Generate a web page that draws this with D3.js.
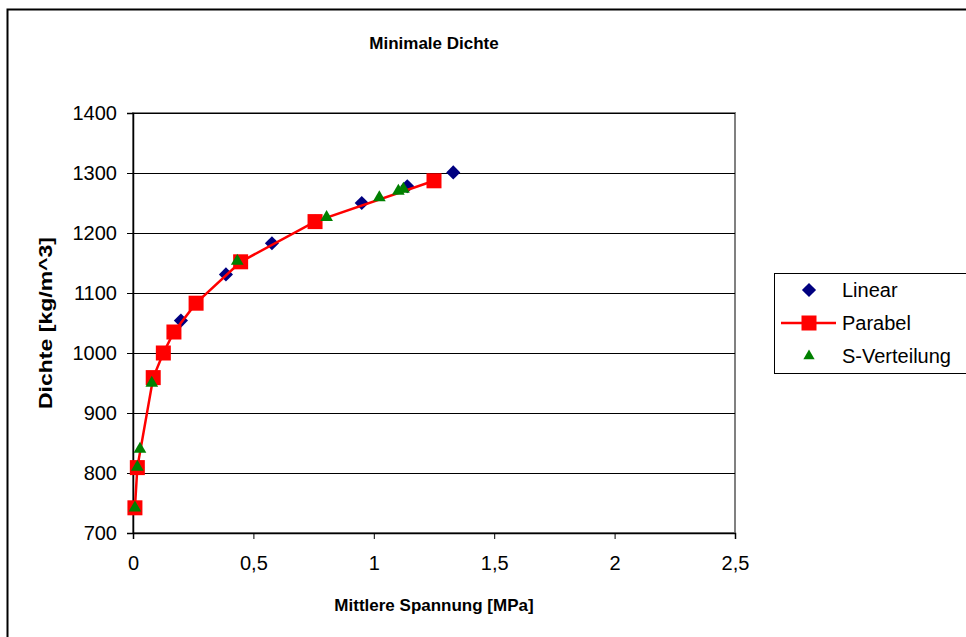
<!DOCTYPE html>
<html>
<head>
<meta charset="utf-8">
<script src="https://cdn.jsdelivr.net/npm/d3@7"></script>
<style>
  html, body { margin: 0; padding: 0; background: #fff; }
  svg { display: block; font-family: "Liberation Sans", Arial, sans-serif; }
</style>
</head>
<body>
<svg id="chart" width="966" height="637"></svg>
<script>
// Mean stress [MPa] vs. density [kg/m^3] for three distribution models
const linearX = [0.008, 0.018, 0.199, 0.386, 0.577, 0.756, 0.950, 1.139, 1.330];
const linearY = [742, 809, 1054, 1131, 1183, 1219, 1250, 1278, 1301];

const parabelX = [0.008, 0.018, 0.084, 0.126, 0.170, 0.262, 0.447, 0.756, 1.250];
const parabelY = [742, 809, 959, 1000, 1035, 1083, 1152, 1219, 1287];

const sVertX = [0.008, 0.018, 0.029, 0.078, 0.433, 0.804, 1.023, 1.102, 1.123];
const sVertY = [742, 810, 840, 950, 1153, 1226, 1259, 1270, 1273];

const xTicks = [0, 0.5, 1, 1.5, 2, 2.5];
const yTicks = [700, 800, 900, 1000, 1100, 1200, 1300, 1400];

const titleText = "Minimale Dichte";
const xTitle = "Mittlere Spannung [MPa]";
const yTitle = "Dichte [kg/m^3]";
const seriesNames = ["Linear", "Parabel", "S-Verteilung"];

const svg = d3.select("#chart");
const plot = { left: 133, top: 113, right: 735, bottom: 533 };

// outer chart frame
svg.append("rect")
  .attr("x", 7.5).attr("y", 9.5)
  .attr("width", 980).attr("height", 650)
  .attr("fill", "#fff").attr("stroke", "#000").attr("stroke-width", 2);

const x = d3.scaleLinear().domain([0, 2.5]).range([plot.left, plot.right]);
const y = d3.scaleLinear().domain([700, 1400]).range([plot.bottom, plot.top]);

// plot area border (grey)
svg.append("rect")
  .attr("x", plot.left).attr("y", plot.top)
  .attr("width", plot.right - plot.left).attr("height", plot.bottom - plot.top)
  .attr("fill", "#fff").attr("stroke", "#808080").attr("stroke-width", 2);

// horizontal gridlines
svg.append("g")
  .selectAll("line")
  .data(yTicks.filter(d => d !== 700))
  .join("line")
  .attr("x1", plot.left).attr("x2", plot.right)
  .attr("y1", d => Math.round(y(d)) + 0.5).attr("y2", d => Math.round(y(d)) + 0.5)
  .attr("stroke", "#000").attr("stroke-width", 1);

const fmt = d => String(d).replace(".", ",");

// axes
const yAxis = svg.append("g")
  .attr("transform", `translate(${plot.left},0)`)
  .call(d3.axisLeft(y).tickValues(yTicks).tickSize(6).tickPadding(10).tickFormat(fmt));
const xAxis = svg.append("g")
  .attr("transform", `translate(0,${plot.bottom})`)
  .call(d3.axisBottom(x).tickValues(xTicks).tickSize(6).tickPadding(17).tickFormat(fmt));

[yAxis, xAxis].forEach(g => {
  g.select(".domain").attr("stroke", "#000").attr("stroke-width", 1.5);
  g.selectAll(".tick line").attr("stroke", "#000");
  g.selectAll(".tick text")
    .attr("fill", "#000")
    .style("font-size", "20px")
    .style("font-family", "'Liberation Sans', Arial, sans-serif");
});

// series data
const linear = linearX.map((v, i) => ({ x: v, y: linearY[i] }));
const parabel = parabelX.map((v, i) => ({ x: v, y: parabelY[i] }));
const sVert = sVertX.map((v, i) => ({ x: v, y: sVertY[i] }));

const triangle = d3.symbol().type(d3.symbolTriangle).size(70);

// Linear: navy diamonds
svg.append("g")
  .selectAll("rect")
  .data(linear)
  .join("rect")
  .attr("x", -5).attr("y", -5).attr("width", 10).attr("height", 10)
  .attr("transform", d => `translate(${x(d.x)},${y(d.y)}) rotate(45)`)
  .attr("fill", "#000080");

// Parabel: red line with squares
svg.append("path")
  .datum(parabel)
  .attr("fill", "none")
  .attr("stroke", "#ff0000")
  .attr("stroke-width", 2.5)
  .attr("d", d3.line().x(d => x(d.x)).y(d => y(d.y)));
svg.append("g")
  .selectAll("rect")
  .data(parabel)
  .join("rect")
  .attr("x", d => x(d.x) - 7.5).attr("y", d => y(d.y) - 7.5)
  .attr("width", 15).attr("height", 15)
  .attr("fill", "#ff0000");

// S-Verteilung: green triangles
svg.append("g")
  .selectAll("path")
  .data(sVert)
  .join("path")
  .attr("d", triangle)
  .attr("transform", d => `translate(${x(d.x)},${y(d.y)})`)
  .attr("fill", "#008000");

// titles
svg.append("text")
  .attr("x", 434).attr("y", 49)
  .attr("text-anchor", "middle")
  .style("font-size", "17px").style("font-weight", "bold")
  .text(titleText);
svg.append("text")
  .attr("x", 434).attr("y", 611)
  .attr("text-anchor", "middle")
  .style("font-size", "17px").style("font-weight", "bold")
  .text(xTitle);
svg.append("text")
  .attr("transform", `translate(52,${(plot.top + plot.bottom) / 2}) rotate(-90)`)
  .attr("text-anchor", "middle")
  .attr("textLength", 172)
  .attr("lengthAdjust", "spacingAndGlyphs")
  .style("font-size", "18px").style("font-weight", "bold")
  .text(yTitle);

// legend
const legend = svg.append("g");
legend.append("rect")
  .attr("x", 774.5).attr("y", 273.5).attr("width", 200).attr("height", 100)
  .attr("fill", "#fff").attr("stroke", "#000").attr("stroke-width", 1);
const ly = [290, 323, 356];
const lx = 809;
legend.append("rect")
  .attr("x", -5).attr("y", -5).attr("width", 10).attr("height", 10)
  .attr("transform", `translate(${lx},${ly[0]}) rotate(45)`)
  .attr("fill", "#000080");
legend.append("line")
  .attr("x1", 781).attr("x2", 836).attr("y1", ly[1]).attr("y2", ly[1])
  .attr("stroke", "#ff0000").attr("stroke-width", 2.5);
legend.append("rect")
  .attr("x", lx - 7.5).attr("y", ly[1] - 7.5).attr("width", 15).attr("height", 15)
  .attr("fill", "#ff0000");
legend.append("path")
  .attr("d", d3.symbol().type(d3.symbolTriangle).size(55)())
  .attr("transform", `translate(${lx},${ly[2]})`)
  .attr("fill", "#008000");
legend.selectAll("text.lbl")
  .data(seriesNames)
  .join("text")
  .attr("class", "lbl")
  .attr("x", 842).attr("y", (d, i) => ly[i])
  .attr("dy", "0.35em")
  .style("font-size", "20px")
  .text(d => d);
</script>
</body>
</html>
